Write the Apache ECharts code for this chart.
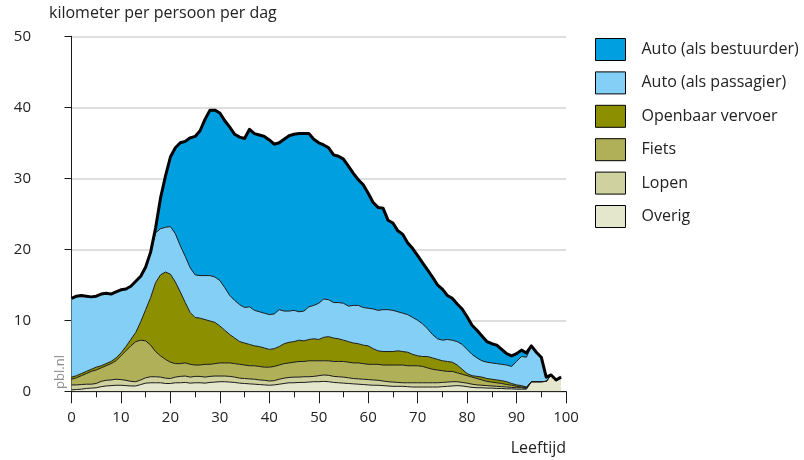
<!DOCTYPE html>
<html>
<head>
<meta charset="utf-8">
<script src="https://cdn.jsdelivr.net/npm/echarts@6/dist/echarts.min.js"></script>
<style>
  html, body { margin: 0; padding: 0; background: #fff; }
  #chart { width: 804px; height: 460px; }
</style>
</head>
<body>
<div id="chart"></div>
<script>
// Kilometers travelled per person per day, by age (0-99) and travel mode.
const ages = Array.from({ length: 100 }, (_, i) => i);

const overig = [
  0.2, 0.25, 0.3, 0.4, 0.45, 0.5, 0.65, 0.75, 0.8, 0.85,
  0.85, 0.8, 0.75, 0.75, 0.95, 1.15, 1.2, 1.2, 1.2, 1.1,
  1.1, 1.2, 1.2, 1.25, 1.15, 1.2, 1.2, 1.15, 1.25, 1.3,
  1.35, 1.35, 1.3, 1.25, 1.15, 1.1, 1.05, 1.0, 0.95, 0.9,
  0.85, 0.9, 1.0, 1.1, 1.2, 1.2, 1.25, 1.25, 1.3, 1.35,
  1.35, 1.4, 1.35, 1.25, 1.2, 1.15, 1.1, 1.05, 1.0, 0.95,
  0.9, 0.85, 0.85, 0.8, 0.75, 0.7, 0.7, 0.7, 0.65, 0.6,
  0.6, 0.6, 0.6, 0.6, 0.6, 0.65, 0.7, 0.75, 0.8, 0.75,
  0.65, 0.55, 0.5, 0.5, 0.45, 0.45, 0.4, 0.4, 0.35, 0.35,
  0.3, 0.3, 0.3, 1.35, 1.35, 1.35, 1.4, 2.3, 1.6, 2.0
];

const lopen = [
  0.7, 0.65, 0.65, 0.6, 0.55, 0.6, 0.75, 0.8, 0.8, 0.85,
  0.8, 0.75, 0.65, 0.6, 0.65, 0.75, 0.85, 0.85, 0.8, 0.75,
  0.7, 0.8, 0.9, 0.9, 0.85, 0.9, 0.9, 0.85, 0.85, 0.85,
  0.8, 0.8, 0.8, 0.75, 0.7, 0.7, 0.7, 0.7, 0.65, 0.65,
  0.6, 0.6, 0.7, 0.75, 0.75, 0.8, 0.75, 0.8, 0.75, 0.75,
  0.85, 0.9, 0.9, 0.85, 0.85, 0.85, 0.8, 0.75, 0.75, 0.75,
  0.75, 0.75, 0.7, 0.65, 0.6, 0.6, 0.55, 0.5, 0.55, 0.6,
  0.6, 0.6, 0.6, 0.6, 0.6, 0.6, 0.6, 0.6, 0.55, 0.5,
  0.5, 0.45, 0.4, 0.35, 0.35, 0.3, 0.3, 0.25, 0.25, 0.2,
  0.2, 0.2, 0.1, 0, 0, 0, 0, 0, 0, 0
];

const fiets = [
  0.8, 1.0, 1.25, 1.5, 1.8, 1.9, 1.9, 2.05, 2.3, 2.6,
  3.35, 4.15, 5.0, 5.65, 5.6, 5.2, 4.45, 3.55, 3.0, 2.65,
  2.3, 1.9, 1.8, 1.85, 1.8, 1.6, 1.6, 1.8, 1.7, 1.75,
  1.85, 1.85, 1.9, 1.9, 1.95, 1.9, 1.85, 1.9, 1.9, 1.85,
  1.95, 2.0, 2.0, 2.05, 2.05, 2.1, 2.2, 2.15, 2.25, 2.2,
  2.1, 2.0, 2.05, 2.1, 2.15, 2.2, 2.2, 2.2, 2.25, 2.2,
  2.15, 2.2, 2.25, 2.25, 2.35, 2.4, 2.45, 2.5, 2.4, 2.4,
  2.4, 2.3, 2.1, 1.9, 1.8, 1.65, 1.5, 1.45, 1.25, 1.15,
  1.05, 1.0, 0.9, 0.75, 0.6, 0.55, 0.5, 0.45, 0.35, 0.3,
  0.2, 0.1, 0.1, 0, 0, 0, 0, 0, 0, 0
];

const openbaarVervoer = [
  0.3, 0.3, 0.3, 0.3, 0.3, 0.4, 0.3, 0.3, 0.3, 0.4,
  0.4, 0.6, 0.9, 1.3, 2.6, 4.4, 6.7, 9.7, 11.4, 12.3,
  12.4, 11.5, 10.1, 8.5, 7.3, 6.7, 6.6, 6.3, 6.1, 5.8,
  5.2, 4.6, 4.0, 3.6, 3.2, 3.1, 3.0, 2.8, 2.8, 2.7,
  2.5, 2.5, 2.6, 2.8, 2.9, 2.9, 3.0, 2.9, 3.0, 3.1,
  3.0, 3.3, 3.4, 3.3, 3.2, 3.0, 2.9, 2.8, 2.7, 2.6,
  2.6, 2.2, 1.9, 1.9, 1.9, 1.9, 2.0, 1.9, 1.9, 1.6,
  1.4, 1.4, 1.6, 1.6, 1.5, 1.4, 1.4, 1.3, 1.1, 0.7,
  0.3, 0.2, 0.3, 0.4, 0.4, 0.4, 0.4, 0.4, 0.4, 0.25,
  0.2, 0.2, 0.1, 0, 0, 0, 0, 0, 0, 0
];

const autoPassagier = [
  11.1, 11.2, 11.0, 10.6, 10.2, 10.0, 10.1, 9.9, 9.5, 9.3,
  8.9, 8.1, 7.5, 7.2, 6.4, 6.0, 6.3, 7.0, 6.5, 6.3,
  6.7, 6.8, 6.5, 6.5, 6.3, 6.0, 6.0, 6.2, 6.4, 6.4,
  6.4, 6.0, 5.5, 5.3, 5.2, 5.0, 5.3, 5.0, 4.9, 4.9,
  4.9, 4.9, 5.2, 4.6, 4.4, 4.4, 4.0, 4.2, 4.6, 4.7,
  5.1, 5.4, 5.2, 5.0, 5.1, 5.2, 5.0, 5.3, 5.4, 5.3,
  5.3, 5.6, 5.7, 5.9, 5.9, 5.8, 5.5, 5.4, 5.3, 5.2,
  5.0, 4.6, 3.9, 3.3, 2.9, 2.9, 3.1, 3.1, 3.3, 3.5,
  3.4, 3.0, 2.6, 2.3, 2.3, 2.3, 2.3, 2.3, 2.35, 2.4,
  3.3, 4.1, 4.2, 5.05, 4.15, 3.45, 0.6, 0, 0, 0
];

const autoBestuurder = [
  0, 0, 0, 0, 0, 0, 0, 0, 0, 0,
  0, 0, 0, 0, 0, 0, 0.1, 0.7, 4.3, 7.2,
  9.8, 12.1, 14.5, 16.2, 18.3, 19.5, 20.4, 22.0, 23.3, 23.5,
  23.6, 23.5, 23.7, 23.4, 23.6, 23.8, 25.0, 24.9, 24.9, 24.9,
  24.6, 23.9, 23.5, 24.2, 24.7, 24.8, 25.1, 25.0, 24.4, 23.4,
  22.6, 21.7, 21.4, 20.8, 20.6, 20.3, 19.7, 18.6, 17.7, 17.3,
  16.2, 15.0, 14.5, 14.3, 12.6, 12.3, 11.4, 11.1, 10.1, 9.7,
  9.1, 8.6, 8.3, 8.1, 7.6, 7.2, 6.2, 5.9, 5.3, 5.0,
  4.6, 4.1, 3.9, 3.5, 2.9, 2.7, 2.6, 2.1, 1.6, 1.5,
  1.1, 0.9, 0.6, 0, 0, 0, 0, 0, 0, 0
];

const xTicks = { min: 0, max: 100, step: 10 };
const yTicks = { min: 0, max: 50, step: 10 };

// Stack order, bottom to top
const modes = [
  { name: 'Overig', values: overig, color: '#e5e7cc' },
  { name: 'Lopen', values: lopen, color: '#cfd29f' },
  { name: 'Fiets', values: fiets, color: '#afb057' },
  { name: 'Openbaar vervoer', values: openbaarVervoer, color: '#8b8f00' },
  { name: 'Auto (als passagier)', values: autoPassagier, color: '#84cff5' },
  { name: 'Auto (als bestuurder)', values: autoBestuurder, color: '#009fe0' }
];

const FONT = '"Open Sans", "Noto Sans", sans-serif';
// Value first so that stacking happens on the km dimension (mapped to y)
const toPairs = vals => ages.map((a, i) => [vals[i], a]);
const ENCODE = { x: 1, y: 0 };

// Filled bands
const areaSeries = modes.map(m => ({
  name: m.name,
  type: 'line',
  stack: 'vlakken',
  data: toPairs(m.values),
  encode: ENCODE,
  showSymbol: false,
  smooth: false,
  z: 2,
  itemStyle: { color: m.color },
  lineStyle: { width: 0, opacity: 0 },
  areaStyle: { color: m.color, opacity: 1 },
  emphasis: { disabled: true },
  silent: true
}));

// Boundary lines drawn over all the bands
const lineSeries = modes.map((m, idx) => ({
  name: 'rand-' + idx,
  type: 'line',
  stack: 'randen',
  data: toPairs(m.values),
  encode: ENCODE,
  showSymbol: false,
  smooth: false,
  z: 3,
  lineStyle: {
    color: idx === modes.length - 1 ? '#000' : '#1a1a1a',
    width: idx === modes.length - 1 ? 3 : 1,
    join: 'round'
  },
  emphasis: { disabled: true },
  silent: true
}));

const chart = echarts.init(document.getElementById('chart'), null, { renderer: 'canvas' });

chart.setOption({
  animation: false,
  backgroundColor: '#fff',
  textStyle: { fontFamily: FONT },
  grid: { left: 71.5, right: 238, top: 36.3, bottom: 68.7 },
  xAxis: {
    type: 'value',
    min: xTicks.min,
    max: xTicks.max,
    interval: xTicks.step,
    axisLine: { show: true, lineStyle: { color: '#1a1a1a', width: 1 } },
    axisTick: { show: true, length: 12, lineStyle: { color: '#1a1a1a', width: 1 } },
    minorTick: { show: true, splitNumber: 2, length: 6, lineStyle: { color: '#1a1a1a', width: 1 } },
    axisLabel: { margin: 19, fontSize: 15, color: '#222', fontFamily: FONT },
    splitLine: { show: false }
  },
  yAxis: {
    type: 'value',
    min: yTicks.min,
    max: yTicks.max,
    interval: yTicks.step,
    offset: 23.5,
    axisLine: { show: true, lineStyle: { color: '#1a1a1a', width: 1 } },
    axisTick: { show: true, length: 7, lineStyle: { color: '#1a1a1a', width: 1 } },
    axisLabel: { margin: 17, fontSize: 15, color: '#222', fontFamily: FONT },
    splitLine: { show: true, lineStyle: { color: '#dedede', width: 2 } }
  },
  legend: {
    orient: 'vertical',
    left: 595,
    top: 38,
    padding: 0,
    itemWidth: 30,
    itemHeight: 22,
    itemGap: 10.4,
    icon: 'rect',
    selectedMode: false,
    itemStyle: { borderColor: '#000', borderWidth: 1 },
    textStyle: { fontSize: 16, color: '#222', fontFamily: FONT, padding: [0, 0, 0, 11] },
    data: modes.map(m => m.name).reverse()
  },
  graphic: [
    {
      type: 'text', left: 49, top: 5,
      style: { text: 'kilometer per persoon per dag', font: '16px ' + FONT, fill: '#222' }
    },
    {
      type: 'text', x: 566, y: 448,
      style: { text: 'Leeftijd', font: '16px ' + FONT, fill: '#222', textAlign: 'right', textVerticalAlign: 'middle' }
    },
    {
      type: 'text', x: 60, y: 372, rotation: Math.PI / 2,
      style: { text: 'pbl.nl', font: '13px ' + FONT, fill: '#8c8c8c', textAlign: 'center', textVerticalAlign: 'middle' }
    }
  ],
  series: areaSeries.concat(lineSeries)
});
</script>
</body>
</html>
